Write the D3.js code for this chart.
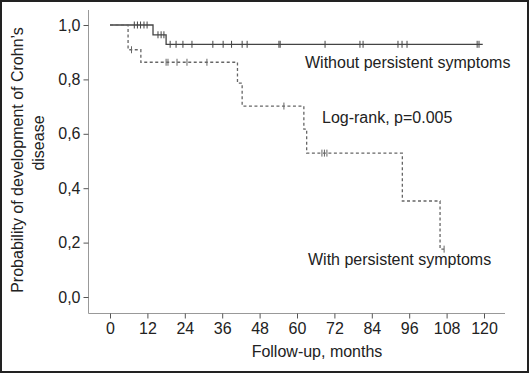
<!DOCTYPE html>
<html>
<head>
<meta charset="utf-8">
<script src="https://cdn.jsdelivr.net/npm/d3@7"></script>
<style>
    body { margin: 0; background: #fff; }
    text { font-family: "Liberation Sans", Arial, sans-serif; fill: #222; }
</style>
</head>
<body>
<div id="chart"></div>
<script>
// Kaplan-Meier steps
const xTicks = [0, 12, 24, 36, 48, 60, 72, 84, 96, 108, 120];
const yTicks = [0, 0.2, 0.4, 0.6, 0.8, 1.0];

const withoutTimes = [0, 13.8, 18];
const withoutSurv = [1, 0.964, 0.929];
const withoutEnd = 119.6;
const withoutCensor = [7.8, 8.8, 9.8, 10.9, 11.9, 15.4, 16.4, 17.3, 19.3, 21.2, 23.4,
    26.3, 33, 36.3, 39, 42.4, 44, 54.2, 54.6, 69, 80.2, 81.2, 92.4, 93.7, 95.3, 117.8, 118.4];

const withTimes = [0, 5.8, 9.9, 40.9, 42.4, 62.2, 63.1, 93.8, 105.9];
const withSurv = [1, 0.909, 0.863, 0.786, 0.702, 0.617, 0.529, 0.353, 0.176];
const withEnd = 107.2;
const withCensor = [6.9, 18, 18.6, 21.5, 24.7, 31.1, 55.8, 68, 68.8, 69.6, 107.2];

let totalWidth = 529,
    totalHeight = 373;
let fontSize = 16;

let xScale = d3.scaleLinear().domain([0, 120]).range([110, 484]);
let yScale = d3.scaleLinear().domain([0, 1]).range([297, 25]);

let svg = d3.select("#chart").append("svg")
    .attr("width", totalWidth)
    .attr("height", totalHeight);

svg.append("rect")
    .attr("x", 1).attr("y", 1)
    .attr("width", totalWidth - 2).attr("height", totalHeight - 2)
    .attr("fill", "#fff")
    .attr("stroke", "#222")
    .attr("stroke-width", 2);

// axis lines (longer than the tick range)
svg.append("line")
    .attr("x1", 88.5).attr("x2", 88.5)
    .attr("y1", 10).attr("y2", 313.5)
    .attr("stroke", "#999");
svg.append("line")
    .attr("x1", 88.5).attr("x2", 505)
    .attr("y1", 313.5).attr("y2", 313.5)
    .attr("stroke", "#999");

let xAxis = d3.axisBottom(xScale).tickValues(xTicks).tickSize(5).tickPadding(4);
let yAxis = d3.axisLeft(yScale).tickValues(yTicks).tickSize(5).tickPadding(3)
    .tickFormat(d => d3.format(".1f")(d).replace(".", ","));

let gx = svg.append("g").attr("transform", "translate(0,313.5)").call(xAxis);
let gy = svg.append("g").attr("transform", "translate(88.5,0)").call(yAxis);

[gx, gy].forEach(g => {
    g.select(".domain").remove();
    g.selectAll(".tick line").attr("stroke", "#555");
    g.selectAll(".tick text")
        .attr("font-size", fontSize)
        .attr("font-family", "Liberation Sans, Arial, sans-serif")
        .attr("fill", "#222");
});

function stepPath(times, surv, end) {
    let pts = [];
    for (let i = 0; i < times.length; i += 1) {
        if (i > 0) pts.push([times[i], surv[i - 1]]);
        pts.push([times[i], surv[i]]);
    }
    pts.push([end, surv[surv.length - 1]]);
    return d3.line().x(d => xScale(d[0])).y(d => yScale(d[1]))(pts);
}

function survAt(times, surv, t) {
    let s = surv[0];
    for (let i = 0; i < times.length; i += 1) {
        if (times[i] <= t) s = surv[i];
    }
    return s;
}

function drawCurve(times, surv, end, censor, color, dash) {
    svg.append("path")
        .attr("d", stepPath(times, surv, end))
        .attr("fill", "none")
        .attr("stroke", color)
        .attr("stroke-width", 1.3)
        .attr("stroke-dasharray", dash);

    svg.selectAll(null)
        .data(censor)
        .enter().append("line")
        .attr("x1", d => xScale(d)).attr("x2", d => xScale(d))
        .attr("y1", d => yScale(survAt(times, surv, d)) - 3.5)
        .attr("y2", d => yScale(survAt(times, surv, d)) + 3.5)
        .attr("stroke", color)
        .attr("stroke-width", 1);
}

drawCurve(withoutTimes, withoutSurv, withoutEnd, withoutCensor, "#444", null);
drawCurve(withTimes, withSurv, withEnd, withCensor, "#666", "3,2.5");

svg.append("text").attr("x", 305).attr("y", 68).attr("font-size", fontSize)
    .text("Without persistent symptoms");
svg.append("text").attr("x", 322).attr("y", 123).attr("font-size", fontSize)
    .text("Log-rank, p=0.005");
svg.append("text").attr("x", 308).attr("y", 265).attr("font-size", fontSize)
    .text("With persistent symptoms");

svg.append("text")
    .attr("x", 317).attr("y", 357)
    .attr("text-anchor", "middle")
    .attr("font-size", fontSize)
    .text("Follow-up, months");

svg.append("text")
    .attr("transform", "translate(23,160) rotate(-90)")
    .attr("text-anchor", "middle")
    .attr("font-size", fontSize)
    .text("Probability of development of Crohn\u2019s");
svg.append("text")
    .attr("transform", "translate(44,143) rotate(-90)")
    .attr("text-anchor", "middle")
    .attr("font-size", fontSize)
    .text("disease");
</script>
</body>
</html>
